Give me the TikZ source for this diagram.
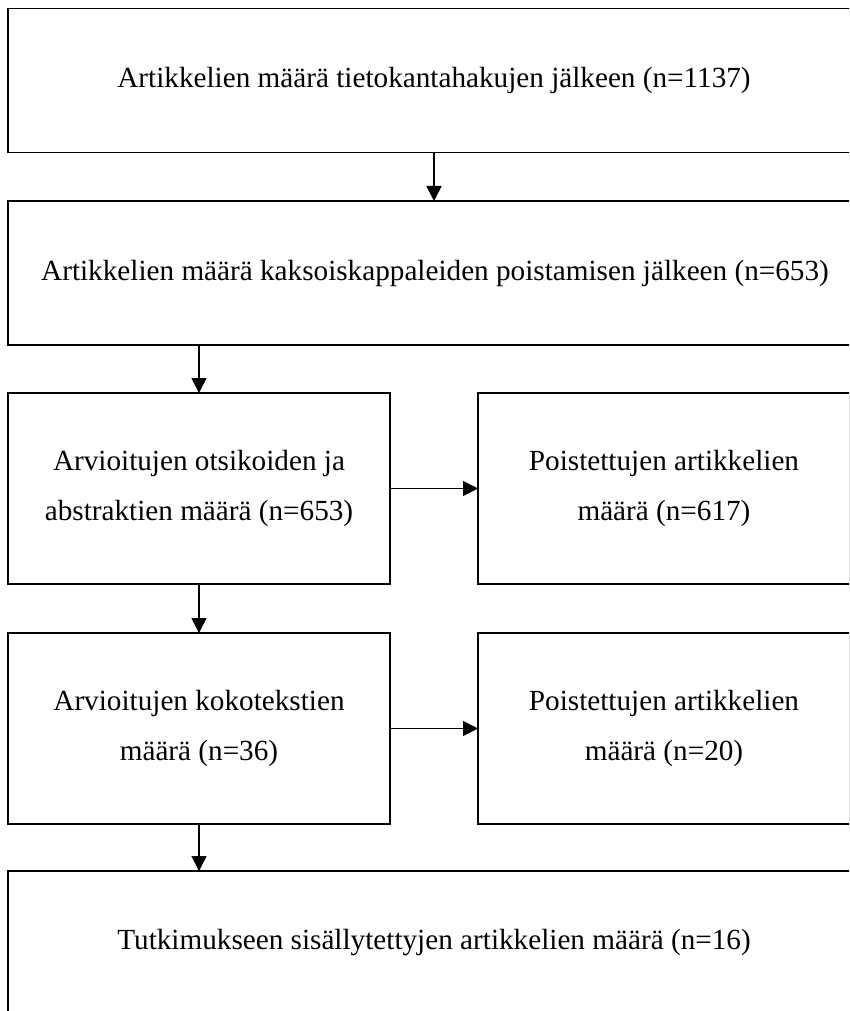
\documentclass[tikz,border=0pt]{standalone}
\usepackage{fontspec}
\setmainfont{Liberation Serif}
\usetikzlibrary{arrows.meta}
\begin{document}
\begin{tikzpicture}[x=1pt,y=-1pt,
  box/.style={draw=black,line width=1.6pt,rectangle,inner sep=0pt,outer sep=0pt,align=center,
    font=\fontsize{29.2}{50}\selectfont},
  arr/.style={line width=1.6pt,-{Triangle[length=15pt,width=15pt]}}]
\useasboundingbox (0,0) rectangle (849,1011);
\clip (0,0) rectangle (849,1011);
\node[box,minimum width=852pt,minimum height=144pt] (b1) at (434,80.5)
  {Artikkelien määrä tietokantahakujen jälkeen (n=1137)};
\node[box,minimum width=854pt,minimum height=144pt] (b2) at (435,273)
  {Artikkelien määrä kaksoiskappaleiden poistamisen jälkeen (n=653)};
\node[box,minimum width=382pt,minimum height=191pt] (b3) at (199,488.5)
  {Arvioitujen otsikoiden ja\\abstraktien määrä (n=653)};
\node[box,minimum width=372pt,minimum height=191pt] (b4) at (664,488.5)
  {Poistettujen artikkelien\\määrä (n=617)};
\node[box,minimum width=382pt,minimum height=191pt] (b5) at (199,728.5)
  {Arvioitujen kokotekstien\\määrä (n=36)};
\node[box,minimum width=372pt,minimum height=191pt] (b6) at (664,728.5)
  {Poistettujen artikkelien\\määrä (n=20)};
\node[box,minimum width=852pt,minimum height=144pt] (b7) at (434,943)
  {Tutkimukseen sisällytettyjen artikkelien määrä (n=16)};
\draw[arr] (b1.south) -- (b1.south |- b2.north);
\draw[arr] (b3.north |- b2.south) -- (b3.north);
\draw[arr] (b3.east) -- (b4.west);
\draw[arr] (b3.south) -- (b5.north);
\draw[arr] (b5.east) -- (b6.west);
\draw[arr] (b5.south) -- (b5.south |- b7.north);
\end{tikzpicture}
\end{document}
